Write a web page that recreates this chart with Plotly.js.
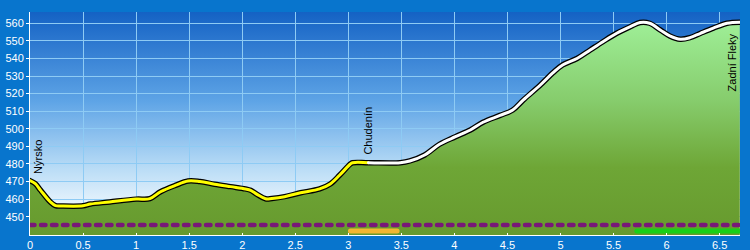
<!DOCTYPE html>
<html>
<head>
<meta charset="utf-8">
<script src="https://cdn.plot.ly/plotly-3.0.1.min.js"></script>
<style>
html,body{margin:0;padding:0;background:#0875cd;}
#chart{width:750px;height:250px;}
.js-line{stroke-linecap:round;}
</style>
</head>
<body>
<div id="chart"></div>
<script>
// Distance (km) and elevation (m) of the profile
const dist = [0, 0.05, 0.1, 0.19, 0.24, 0.3, 0.5, 0.57, 0.75, 1.0, 1.13, 1.23, 1.37, 1.49, 1.6, 1.74, 1.89, 2.03, 2.08, 2.14, 2.22, 2.28, 2.4, 2.55, 2.73, 2.83, 2.92, 3.02, 3.04, 3.19, 3.49, 3.58, 3.72, 3.86, 4.01, 4.15, 4.27, 4.43, 4.55, 4.65, 4.81, 4.93, 5.02, 5.16, 5.28, 5.4, 5.53, 5.66, 5.75, 5.84, 5.94, 6.03, 6.13, 6.22, 6.32, 6.44, 6.57, 6.69];
const elev = [470.5, 468.8, 465, 458.5, 456.3, 456.1, 456.2, 457.2, 458.4, 460, 460.3, 464.2, 467.8, 470.3, 470, 468.5, 467.1, 465.8, 465, 462.7, 460.2, 460.4, 461.4, 463.6, 465.8, 468.6, 473.7, 480, 480.7, 480.7, 480.7, 481.7, 485.1, 491.2, 495.5, 499.3, 503.7, 507.6, 510.7, 516.4, 524.9, 531.9, 536.3, 540.1, 544.8, 549.5, 554.3, 558.1, 560.4, 560, 556.2, 552.8, 550.9, 551.8, 554.3, 557.2, 560, 560.6];
const yellowEndKm = 3.19;   // end of the yellow-marked part of the route

// Surface bars under the profile
const dashedFrom = [0, 6.69], dashedElev = [445.3, 445.3];
const orangeFrom = [3.02, 3.46], orangeElev = [441.9, 441.9];
const greenFrom = [5.72, 6.7], greenElev = [441.9, 441.9];

// Place labels
const placeNames = ["Nýrsko", "Chudenín", "Zadní Fleky"];
const placeKm = [0.07, 3.19, 6.62];
const placeElev = [474, 485, 555];
const placeAnchor = ["bottom", "bottom", "top"];

const xTicks = [0, 0.5, 1, 1.5, 2, 2.5, 3, 3.5, 4, 4.5, 5, 5.5, 6, 6.5];
const yTicks = [450, 460, 470, 480, 490, 500, 510, 520, 530, 540, 550, 560];

const splitIdx = dist.indexOf(yellowEndKm);
const yx = dist.slice(0, splitIdx + 1), yy = elev.slice(0, splitIdx + 1);
const wx = dist.slice(splitIdx), wy = elev.slice(splitIdx);

const FONT = "Liberation Sans, Arial, sans-serif";
const shape = {shape: 'spline', smoothing: 1};

const traces = [
  {x: dist, y: elev, type: 'scatter', mode: 'lines', fill: 'tozeroy',
   line: Object.assign({width: 0, color: 'rgba(0,0,0,0)'}, shape),
   fillgradient: {type: 'vertical', start: 440, stop: 566,
     colorscale: [[0, '#679a2e'], [0.3, '#6ea636'], [0.6, '#86cc6c'], [0.95, '#9eee96'], [1, '#a0f098']]},
   hoverinfo: 'skip'},
  {x: dashedFrom, y: dashedElev, type: 'scatter', mode: 'lines',
   line: {color: '#781878', width: 4.5, dash: '4.5px,6.5px'}, hoverinfo: 'skip'},
  {x: orangeFrom, y: orangeElev, type: 'scatter', mode: 'lines', cliponaxis: false,
   line: {color: '#f2b632', width: 5}, hoverinfo: 'skip'},
  {x: greenFrom, y: greenElev, type: 'scatter', mode: 'lines', cliponaxis: false,
   line: {color: '#18d018', width: 5}, hoverinfo: 'skip'},
  {x: dist, y: elev, type: 'scatter', mode: 'lines',
   line: Object.assign({width: 5.5, color: '#000000'}, shape), hoverinfo: 'skip'},
  {x: yx, y: yy, type: 'scatter', mode: 'lines',
   line: Object.assign({width: 3, color: '#ffff00'}, shape), hoverinfo: 'skip'},
  {x: wx, y: wy, type: 'scatter', mode: 'lines',
   line: Object.assign({width: 3, color: '#ffffff'}, shape), hoverinfo: 'skip'}
];

const bgSvg = "<svg xmlns='http://www.w3.org/2000/svg' width='100' height='100' preserveAspectRatio='none'>" +
  "<defs><linearGradient id='g' x1='0' y1='0' x2='0' y2='1'>" +
  "<stop offset='0' stop-color='#1462c4'/><stop offset='0.4' stop-color='#5ea4e6'/>" +
  "<stop offset='0.7' stop-color='#b9dcf6'/><stop offset='0.86' stop-color='#e6f3fc'/>" +
  "<stop offset='1' stop-color='#ffffff'/></linearGradient></defs>" +
  "<rect width='100' height='100' fill='url(#g)'/></svg>";

const annotations = placeNames.map((t, i) => ({
  text: t, x: placeKm[i], y: placeElev[i], xref: 'x', yref: 'y',
  showarrow: false, textangle: -90, xanchor: 'center', yanchor: placeAnchor[i],
  font: {family: FONT, size: 11, color: '#000000'}, borderpad: 0
}));

const layout = {
  width: 750, height: 250,
  margin: {l: 30, r: 10, t: 12, b: 15, pad: 0},
  paper_bgcolor: '#0875cd',
  plot_bgcolor: 'rgba(0,0,0,0)',
  showlegend: false,
  images: [{source: 'data:image/svg+xml;charset=utf-8,' + encodeURIComponent(bgSvg),
    xref: 'paper', yref: 'paper', x: 0, y: 1, sizex: 1, sizey: 1,
    sizing: 'stretch', xanchor: 'left', yanchor: 'top', layer: 'below'}],
  xaxis: {range: [0, 6.692], tickvals: xTicks, ticktext: xTicks.map(String),
    showgrid: true, gridcolor: '#8ecbf4', gridwidth: 1, zeroline: false,
    showline: true, linecolor: '#ffffff', linewidth: 1,
    ticks: 'inside', ticklen: 2, tickcolor: '#ffffff',
    tickfont: {family: FONT, size: 11, color: '#ffffff'}, fixedrange: true},
  yaxis: {range: [439.6, 566.4], tickvals: yTicks,
    showgrid: true, gridcolor: '#8ecbf4', gridwidth: 1, zeroline: false,
    showline: true, linecolor: '#ffffff', linewidth: 1,
    ticks: 'outside', ticklen: 3, tickcolor: '#ffffff',
    tickfont: {family: FONT, size: 11, color: '#ffffff'}, fixedrange: true},
  annotations: annotations
};

Plotly.newPlot('chart', traces, layout, {displayModeBar: false, staticPlot: true});
</script>
</body>
</html>
